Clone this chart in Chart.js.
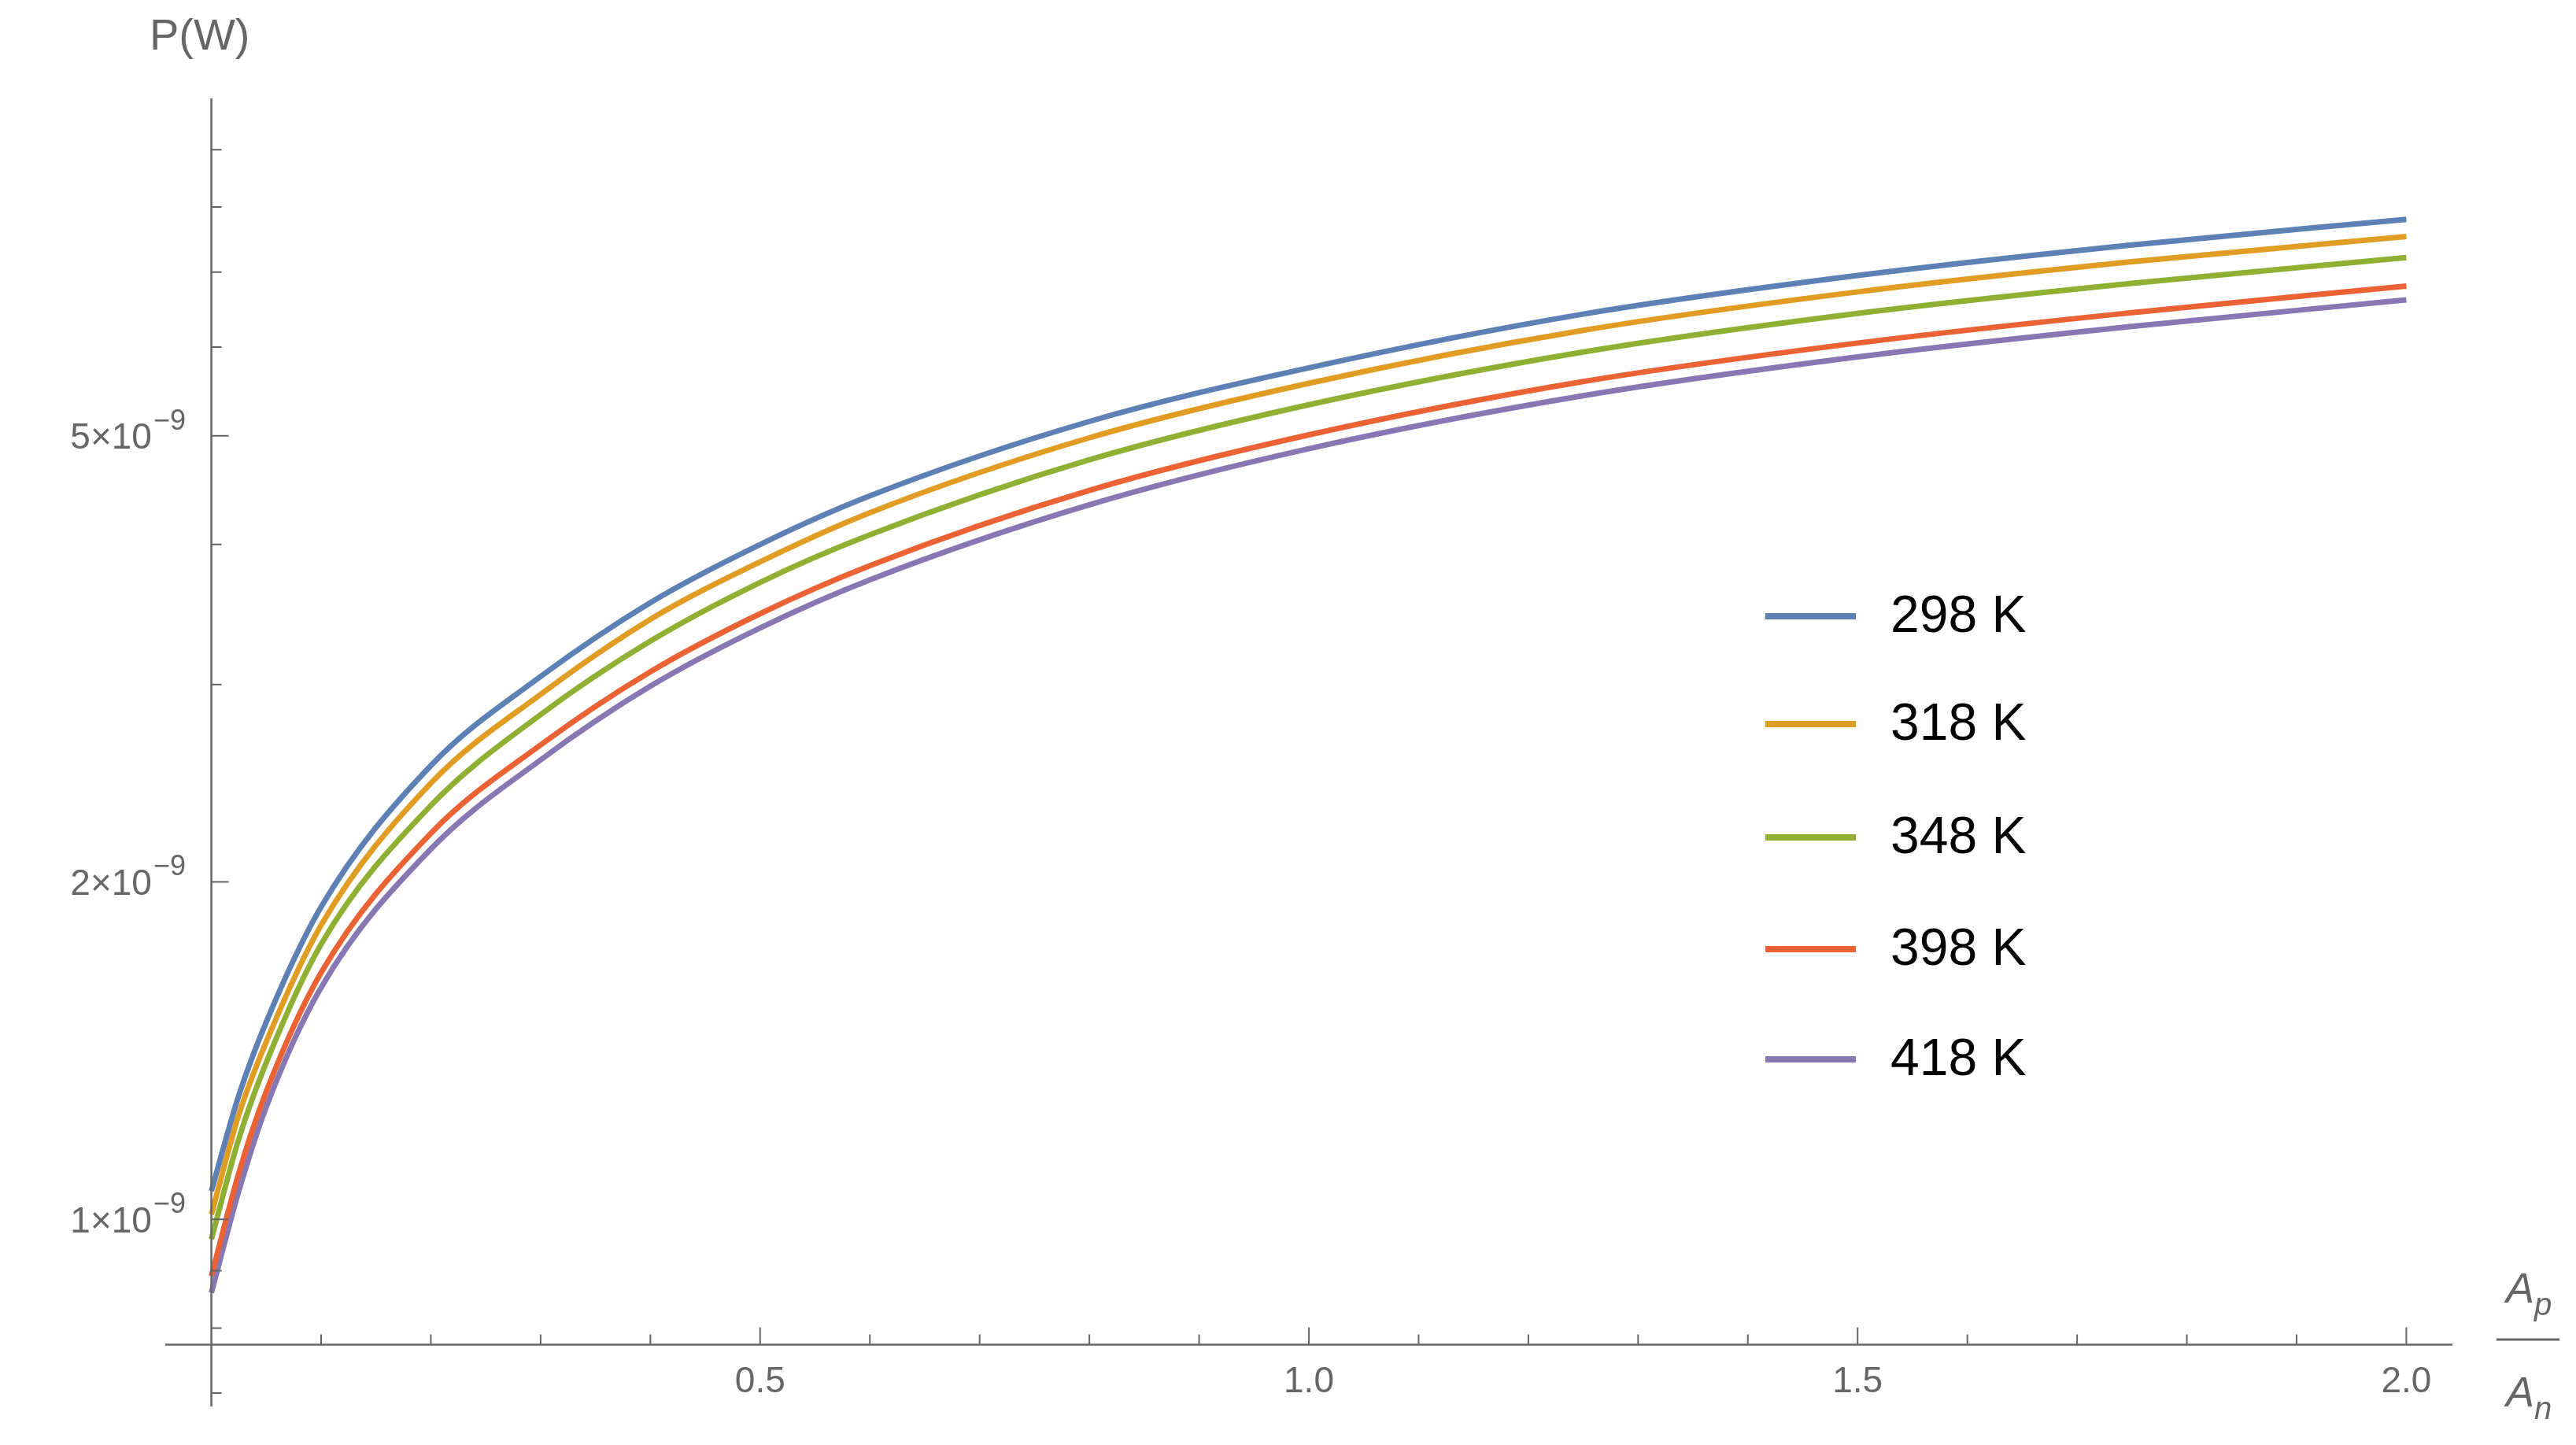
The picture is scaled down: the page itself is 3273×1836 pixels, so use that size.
<!DOCTYPE html>
<html><head><meta charset="utf-8">
<script src="https://cdn.jsdelivr.net/npm/chart.js@4"></script>
<style>html,body{margin:0;padding:0;background:#fff;overflow:hidden}</style>
</head><body>
<canvas id="c" width="3273" height="1836" style="width:3273px;height:1836px"></canvas>
<script>
const xValues = [0, 0.025, 0.05, 0.1, 0.2, 0.3, 0.4, 0.5, 0.6, 0.8, 1.0, 1.25, 1.5, 1.75, 2.0];
const p298 = [1.06,1.29,1.50,1.90,2.54,3.05,3.55,4.00,4.42,5.15,5.75,6.42,6.95,7.40,7.80];
const p318 = [1.01,1.24,1.44,1.83,2.45,2.94,3.43,3.86,4.27,4.98,5.57,6.21,6.72,7.15,7.53];
const p348 = [0.96,1.18,1.38,1.76,2.34,2.82,3.28,3.70,4.08,4.76,5.33,5.94,6.43,6.84,7.21];
const p398 = [0.89,1.10,1.30,1.66,2.21,2.65,3.08,3.47,3.83,4.47,5.01,5.59,6.05,6.44,6.80];
const p418 = [0.86,1.06,1.26,1.61,2.14,2.57,2.99,3.37,3.72,4.34,4.87,5.43,5.88,6.26,6.61];
const seriesLabels = ['298 K','318 K','348 K','398 K','418 K'];
const seriesColors = ['#5E81B5','#E19C24','#8FB032','#EB6235','#8778B3'];
const yMajor = [1,2,5];           // ×10^-9
const yMinor = [0.7,0.8,0.9,3,4,6,7,8,9];
const xMajor = [0.5,1.0,1.5,2.0];
const xMinor = [0.1,0.2,0.3,0.4,0.6,0.7,0.8,0.9,1.1,1.2,1.3,1.4,1.6,1.7,1.8,1.9];
const xAxisAt = 0.773e-9;

const all = [p298,p318,p348,p398,p418];
const datasets = all.map((arr,i)=>({
  label: seriesLabels[i],
  data: xValues.map((x,j)=>({x:x,y:arr[j]*1e-9})),
  borderColor: seriesColors[i], borderWidth: 7, pointRadius: 0,
  cubicInterpolationMode: 'monotone', fill:false
}));

const grey = '#666666';
const deco = {
  id:'deco',
  afterDraw(chart){
    const ctx = chart.ctx, xs = chart.scales.x, ys = chart.scales.y;
    const x0 = xs.getPixelForValue(0), yA = ys.getPixelForValue(xAxisAt);
    ctx.save();
    ctx.strokeStyle = grey; ctx.lineWidth = 2.5;
    // axes lines
    ctx.beginPath();
    ctx.moveTo(xs.left, yA); ctx.lineTo(xs.right, yA);
    ctx.moveTo(x0, ys.top); ctx.lineTo(x0, ys.bottom);
    ctx.stroke();
    ctx.lineWidth = 2;
    // y ticks
    ctx.beginPath();
    yMajor.forEach(v=>{const y=ys.getPixelForValue(v*1e-9); ctx.moveTo(x0,y); ctx.lineTo(x0+22,y);});
    yMinor.forEach(v=>{const y=ys.getPixelForValue(v*1e-9); ctx.moveTo(x0,y); ctx.lineTo(x0+13,y);});
    xMajor.forEach(v=>{const x=xs.getPixelForValue(v); ctx.moveTo(x,yA); ctx.lineTo(x,yA-22);});
    xMinor.forEach(v=>{const x=xs.getPixelForValue(v); ctx.moveTo(x,yA); ctx.lineTo(x,yA-13);});
    ctx.stroke();
    ctx.fillStyle = grey;
    // y labels
    yMajor.forEach(v=>{
      const y=ys.getPixelForValue(v*1e-9);
      ctx.font='46px "Liberation Sans", Arial, sans-serif';
      ctx.textAlign='right'; ctx.textBaseline='middle';
      const sup='\u22129'; 
      ctx.font='36px "Liberation Sans", Arial, sans-serif';
      const sw = ctx.measureText(sup).width;
      ctx.fillText(sup, 236, y-18);
      ctx.font='46px "Liberation Sans", Arial, sans-serif';
      ctx.fillText(v+'\u00d710', 236-sw-2, y+4);
    });
    // x labels
    ctx.font='46px "Liberation Sans", Arial, sans-serif';
    ctx.textAlign='center'; ctx.textBaseline='middle';
    xMajor.forEach(v=>{ctx.fillText(v.toFixed(1), xs.getPixelForValue(v), yA+48);});
    // axis titles
    ctx.font='56px "Liberation Sans", Arial, sans-serif';
    ctx.textAlign='left';
    ctx.fillText('P(W)', 190, 48);
    const cx = 3212;
    ctx.font='italic 54px "Liberation Sans", Arial, sans-serif';
    ctx.textAlign='right'; ctx.fillText('A', cx+8, 1640);
    ctx.textAlign='left'; ctx.font='italic 40px "Liberation Sans", Arial, sans-serif'; ctx.fillText('p', cx+8, 1660);
    ctx.font='italic 54px "Liberation Sans", Arial, sans-serif';
    ctx.textAlign='right'; ctx.fillText('A', cx+8, 1772);
    ctx.textAlign='left'; ctx.font='italic 40px "Liberation Sans", Arial, sans-serif'; ctx.fillText('n', cx+8, 1792);
    ctx.lineWidth=3; ctx.beginPath(); ctx.moveTo(cx-40,1702); ctx.lineTo(cx+40,1702); ctx.stroke();
    // legend
    const rows=[783,920,1064,1206,1346];
    chart.data.datasets.forEach((d,i)=>{
      ctx.strokeStyle=d.borderColor; ctx.lineWidth=8; ctx.globalAlpha=1;
      ctx.beginPath(); ctx.moveTo(2243,rows[i]); ctx.lineTo(2358,rows[i]); ctx.stroke();
      ctx.fillStyle='#000'; ctx.font='66px "Liberation Sans", Arial, sans-serif';
      ctx.textAlign='left'; ctx.textBaseline='middle';
      ctx.fillText(d.label, 2402, rows[i]+2);
    });
    ctx.restore();
  }
};

new Chart(document.getElementById('c'), {
  type:'line',
  data:{datasets},
  options:{
    responsive:false, animation:false, devicePixelRatio:1,
    layout:{padding:{left:202,top:125,right:157,bottom:41}},
    plugins:{legend:{display:false},tooltip:{enabled:false}},
    scales:{
      x:{type:'linear',min:-0.042,max:2.042,display:true,
         ticks:{display:false},grid:{display:false},border:{display:false}},
      y:{type:'logarithmic',min:0.681e-9,max:1e-8,display:true,
         ticks:{display:false},grid:{display:false},border:{display:false}}
    }
  },
  plugins:[deco]
});
</script>
</body></html>
